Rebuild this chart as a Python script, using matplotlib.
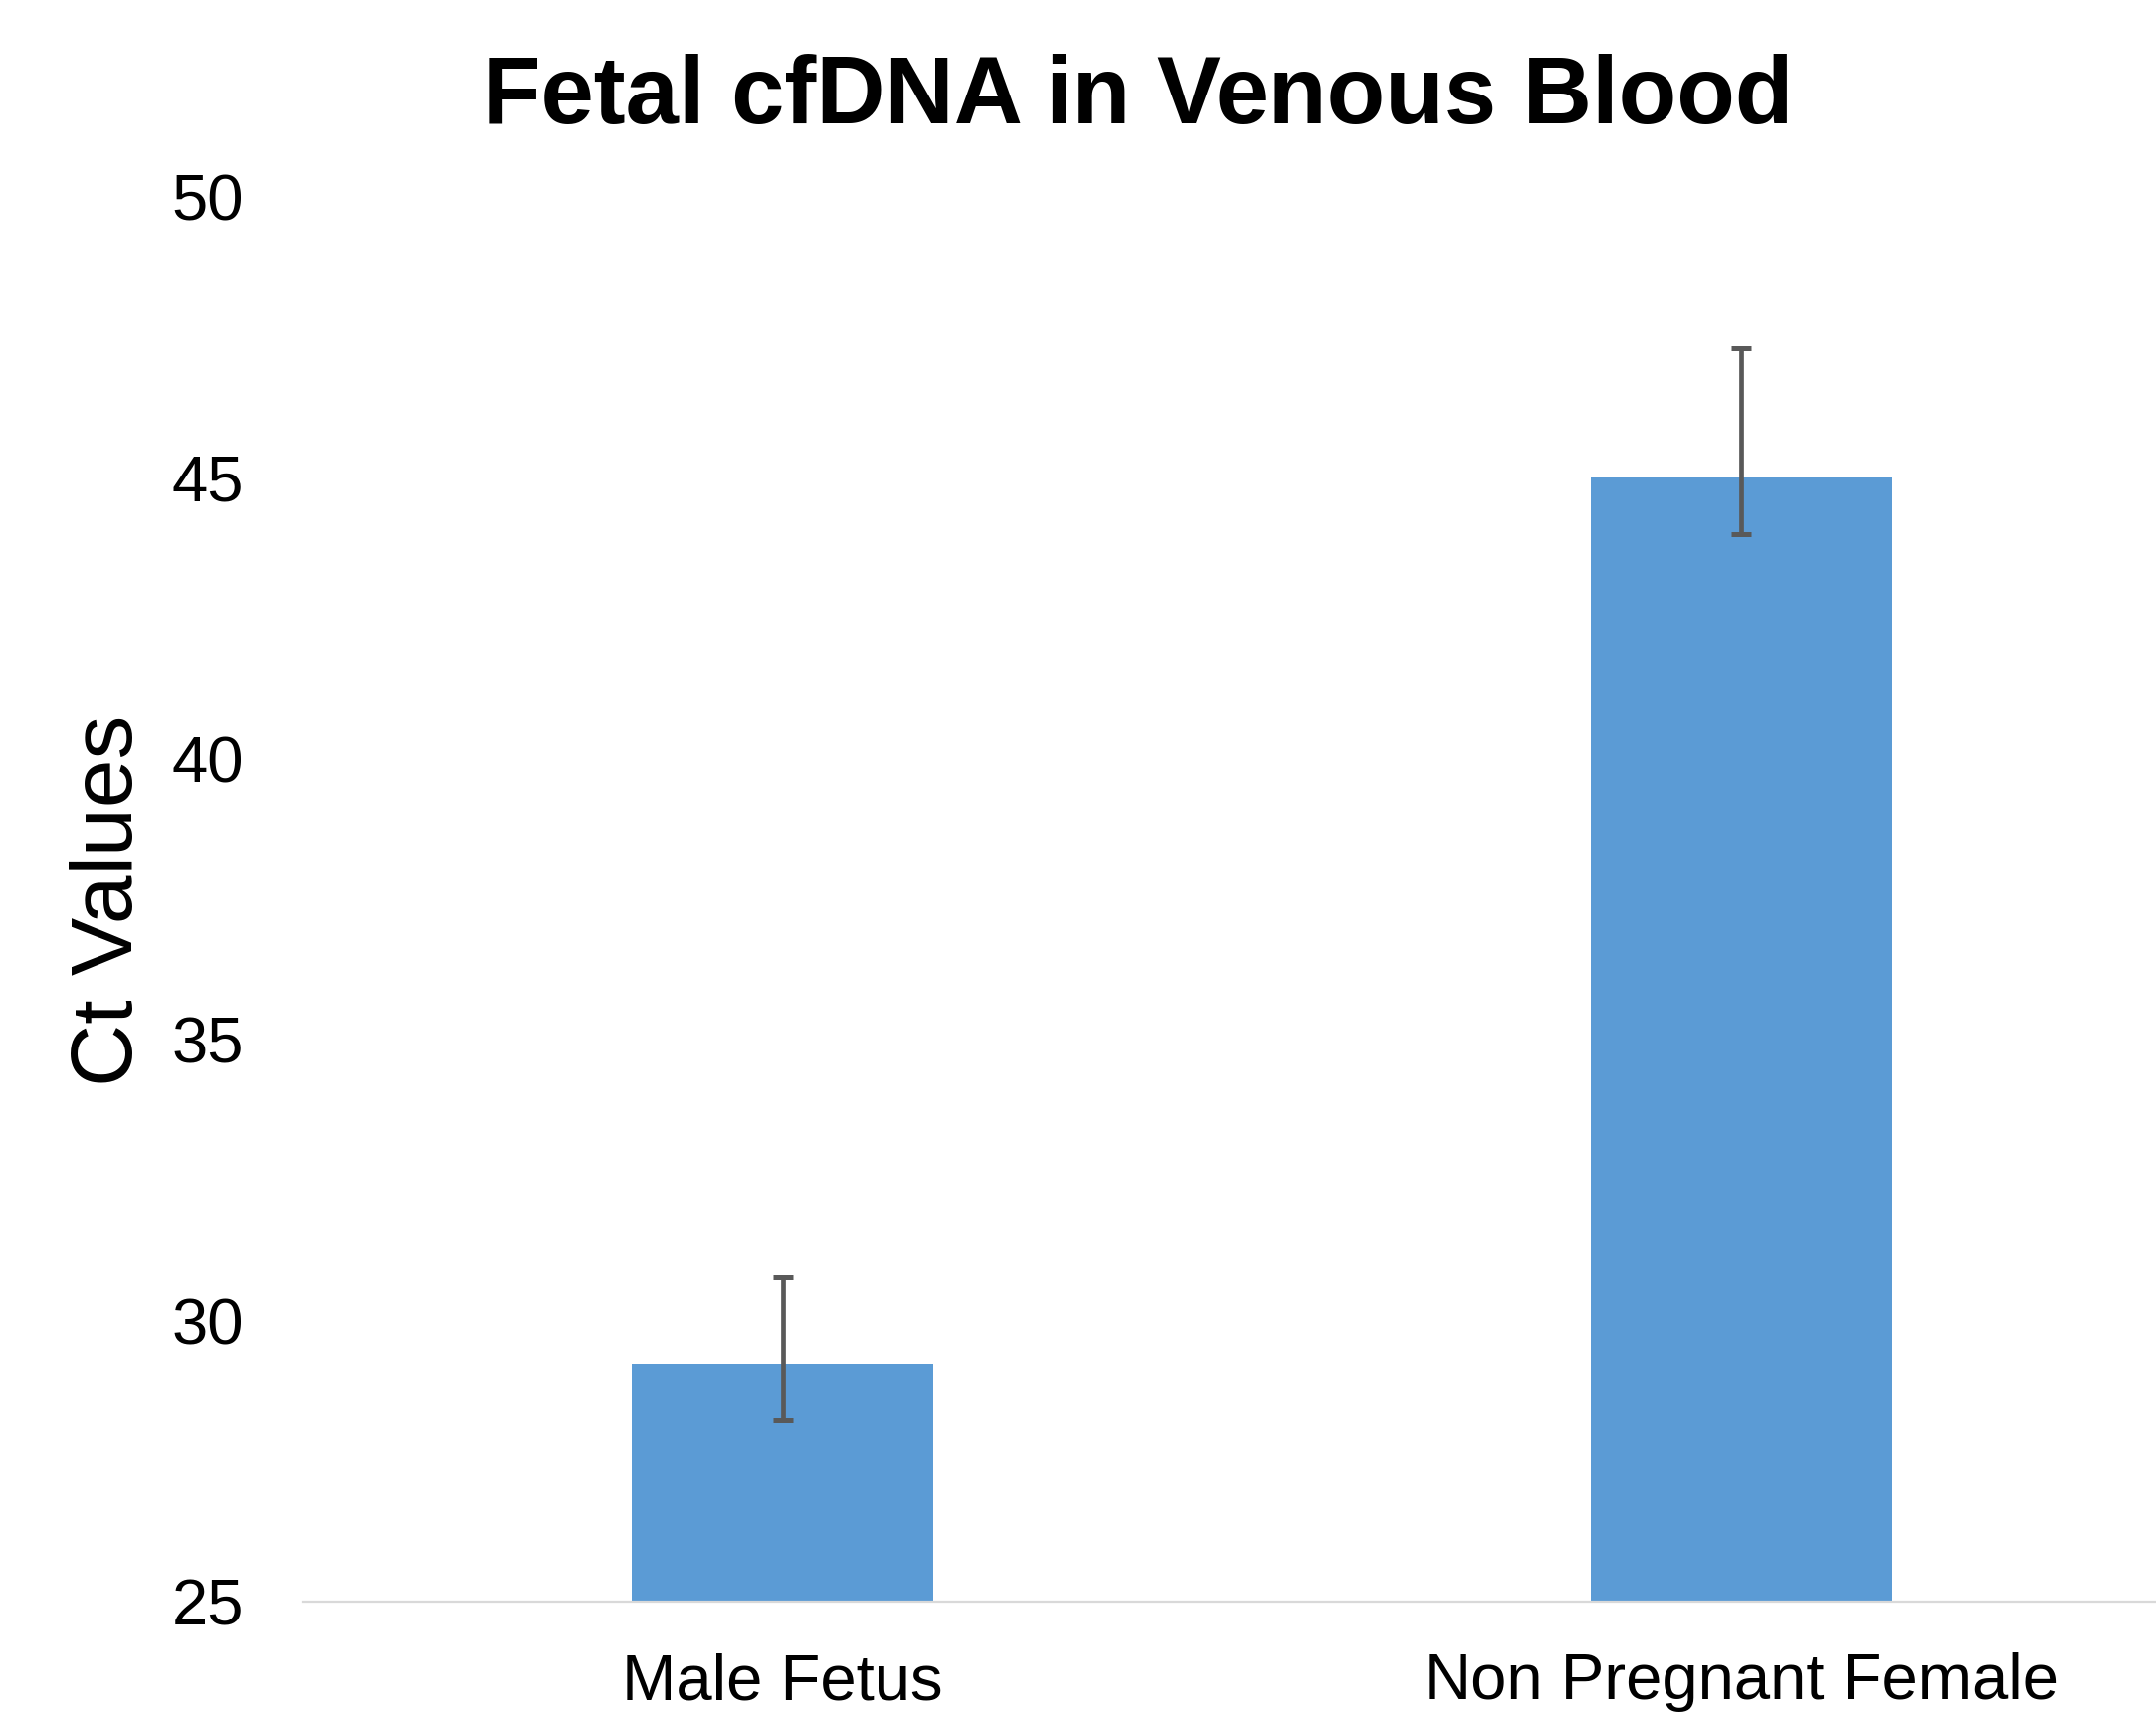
import matplotlib
matplotlib.use("Agg")
import matplotlib.pyplot as plt
import numpy as np

categories = ["Male Fetus", "Non Pregnant Female"]
ct_values = [29.24, 45.0]
err_lower = [1.0, 1.0]
err_upper = [1.53, 2.31]
y_ticks = [25, 30, 35, 40, 45, 50]

W, H = 2167, 1723
fig = plt.figure(figsize=(W / 100, H / 100), dpi=100)
fig.patch.set_facecolor("white")

ax_left = 305 / W
ax_bottom = (H - 1610) / H
ax_top = (H - 198) / H
ax = fig.add_axes([ax_left, ax_bottom, 1.0 - ax_left, ax_top - ax_bottom])

x = np.arange(len(categories))
ax.bar(x, ct_values, width=0.314, color="#5B9BD5", zorder=2)
ax.errorbar(x, ct_values, yerr=[err_lower, err_upper], fmt="none",
            ecolor="#595959", elinewidth=3.4, capsize=7, capthick=3.6, zorder=3)

ax.set_ylim(25, 50)
ax.set_xlim(-0.5, (W - 305) / 963.5 - 0.5)
ax.set_yticks(y_ticks)
ax.set_xticks(x)
ax.set_xticklabels(categories)

for s in ["top", "right", "left"]:
    ax.spines[s].set_visible(False)
ax.spines["bottom"].set_color("#d9d9d9")
ax.spines["bottom"].set_linewidth(1.6)

ax.tick_params(axis="both", length=0)
ax.tick_params(axis="y", pad=43)
ax.tick_params(axis="x", pad=37)
for lab in ax.get_yticklabels() + ax.get_xticklabels():
    lab.set_fontfamily("Liberation Sans")
    lab.set_fontsize(47)
    lab.set_color("black")

fig.text(1143.5 / W, 1 - 124 / H, "Fetal cfDNA in Venous Blood",
         ha="center", va="baseline", fontsize=69, fontweight="bold",
         family=["Liberation Sans", "DejaVu Sans"], color="black")

fig.text(111 / W, 1 - 905.5 / H, "Ct Values", rotation=90,
         ha="center", va="center", fontsize=63,
         family=["Liberation Sans", "DejaVu Sans"], color="black")

fig.savefig("out.png", dpi=100, facecolor="white")
